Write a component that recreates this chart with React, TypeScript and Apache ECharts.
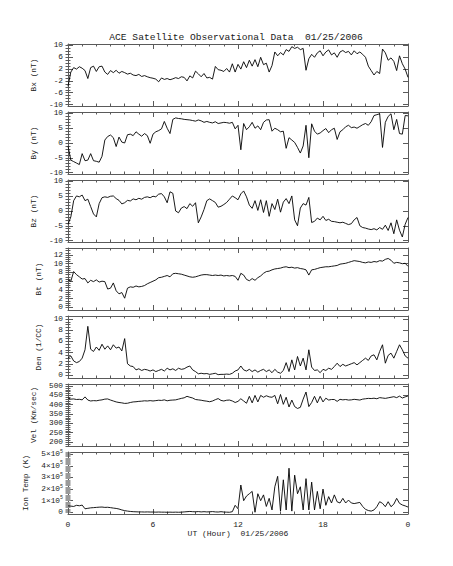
import React, { useEffect, useRef } from "react";
import * as echarts from "echarts";

// ---------- data (sampled every 0.2 h, 0..24 h UT) ----------
const STEP_H = 0.2;
const hours: number[] = Array.from({ length: 121 }, (_, i) => Math.round(i * STEP_H * 10) / 10);

const bx: number[] = [
  -3.8, 1.0, 2.5, 2.0, 2.8, 2.3, 1.5, -1.2, 2.5, 3.0,
  1.2, 2.8, 3.0, 1.0, 0.2, 1.5, 0.8, 1.6, 0.6, 1.2,
  0.8, 0.3, 0.6, 0.0, -0.2, 0.2, -0.5, -0.2, -0.6, -0.9,
  -1.1, -1.4, -2.3, -1.0, -1.5, -1.2, -1.6, -1.3, -0.9, -1.2,
  -0.6, -0.8, -2.0, -0.3, -1.0, 1.3, 0.4, -0.6, 0.5, -1.0,
  -0.8, -1.4, 2.9, 1.8, 1.6, 1.2, 2.2, 1.0, 3.8, 1.0,
  3.6, 2.0, 4.5, 2.5, 5.0, 3.0, 5.2, 2.8, 6.0, 3.5,
  4.0, 1.0, 3.2, 7.8, 6.5, 7.6, 6.8, 8.6, 8.0, 9.6,
  9.0, 9.4, 8.6, 9.0, 1.6, 5.5, 7.0, 6.0, 7.5, 8.2,
  6.5, 7.8, 8.5, 6.8, 7.5, 6.0, 7.8, 8.3, 7.6, 8.0,
  6.8, 8.2, 7.2, 7.8, 7.0, 6.0, 3.0, 1.5, 0.0, 1.2,
  0.5, 8.8, 7.5, 5.0, 5.8, 4.6, 1.5, 6.5, 3.8, 2.0,
  -0.8,
];

const by: number[] = [
  -1.0, -5.8, -6.3, -6.8, -7.3, -3.6, -6.0, -5.8, -3.6, -6.0,
  -6.2, -6.5, -4.5, 1.0, 2.2, 2.7, 1.8, -1.2, 2.0, 0.3,
  0.0, 2.8, 3.0, 2.5, 3.8, 3.0, 2.3, 3.2, 2.5, -0.1,
  3.0, 3.8, 4.2, 4.8, 7.3, 5.0, 3.2, 8.0, 8.5, 8.3,
  8.2, 8.0, 7.9, 7.8, 7.6, 7.4, 7.8, 7.5, 7.0, 7.3,
  7.0, 6.8, 7.2, 6.6, 6.8, 7.0, 6.9, 6.7, 7.0, 4.8,
  6.0, -2.3, 6.6, 4.5, 5.5, 7.0, 5.0, 5.8, 4.5, 7.0,
  7.8, 7.9, 4.0, 5.0, 4.5, 3.8, 4.0, -1.8, 1.8, 1.0,
  0.2, -1.5, -3.4, -1.0, 6.0, -5.0, 6.5, 4.0, 3.0, 3.4,
  4.2, 4.9, 3.5, 4.5, 5.0, 1.2, 3.8, 4.5, 5.5, 6.0,
  5.2, 5.4, 5.0, 5.6, 6.2, 6.6, 6.0, 7.2, 9.3, 9.6,
  9.9, -1.5, 7.0, 9.0, 9.9, 4.5, 8.0, 3.2, 3.0, 9.3,
  9.2,
];

const bz: number[] = [
  -4.5, -2.0, 3.5, 5.1, 4.8, 5.4, 3.5, 4.0, 1.5, -1.0,
  -2.0, 2.5, 4.5, 4.8, 4.6, 5.0, 5.1, 4.2, 3.6, 2.4,
  2.8, 3.6, 3.4, 4.1, 3.8, 4.3, 4.0, 4.6, 4.8, 4.5,
  5.0, 4.8, 5.7, 5.9, 4.8, 2.8, 6.5, 6.0, 0.0, -0.6,
  1.0, 1.5, 0.8, 2.5, 1.6, 2.8, -4.0, -2.0, 0.5, 3.5,
  4.1, 3.5, 2.9, 1.3, 1.6, 2.2, 2.9, 4.0, 5.1, 4.5,
  3.8, 5.8, 6.8, 4.8, 2.0, 0.9, 3.5, 0.2, 3.8, -0.5,
  3.5, -1.8, 2.5, 0.5, 4.0, -0.4, 3.0, 4.2, 2.5, 5.1,
  -3.0, -5.0, 1.0, 2.5, 2.0, 4.6, -3.9, -3.5, -2.4, -3.0,
  -1.8, -3.2, -2.8, -3.5, -3.6, -3.8, -4.0, -3.8, -4.2, -4.6,
  -4.3, -3.0, -2.2, -5.0, -5.6, -5.8, -6.1, -6.3, -6.0, -6.4,
  -5.6, -6.2, -4.8, -6.6, -4.0, -7.7, -3.0, -6.5, -8.8, -4.5,
  -2.2,
];

const bt: number[] = [
  6.3, 6.0, 8.2, 7.5, 7.0, 6.5, 6.6, 5.6, 6.2, 5.9,
  6.3, 5.8, 6.0, 5.9, 4.2, 4.4, 5.6, 3.8, 3.1, 3.4,
  2.1, 4.4, 4.7, 4.6, 4.9, 4.7, 4.8, 5.0, 5.4, 5.7,
  6.0, 6.3, 6.8, 6.9, 7.1, 7.3, 7.0, 7.7, 7.8, 7.7,
  7.6, 7.4, 7.2, 7.0, 6.9, 7.0, 7.2, 7.4, 7.5, 7.5,
  7.4, 7.3, 7.4, 7.3, 7.4, 7.2, 7.3, 7.2, 7.3, 7.1,
  6.2, 7.8, 7.4, 6.4, 6.1, 6.6, 6.2, 6.8, 7.2, 7.8,
  8.2, 8.3, 8.6, 8.8, 8.9, 9.0, 9.2, 9.3, 9.1, 9.2,
  9.0, 9.1, 8.9, 8.8, 8.6, 7.4, 8.6, 8.7, 8.9, 9.1,
  9.2, 9.3, 9.3, 9.4, 9.5, 9.6, 9.9, 10.0, 10.1, 10.3,
  10.5, 10.7, 10.6, 10.5, 10.3, 10.2, 10.4, 10.3, 10.5, 10.4,
  10.7, 10.6, 11.0, 11.2, 10.8, 10.1, 10.3, 10.2, 10.0, 10.1,
  9.4,
];

const den: number[] = [
  3.0, 3.4, 2.5, 2.2, 2.4, 3.0, 4.5, 8.7, 4.6, 4.2,
  5.0, 4.4, 5.5, 4.6, 5.2, 4.5, 5.4, 4.8, 5.0, 4.3,
  6.5, 2.0, 1.6, 1.5, 0.9, 1.1, 0.8, 1.0, 0.9, 0.7,
  0.9, 0.6, 0.8, 1.0, 0.7, 1.2, 0.9, 1.1, 0.8, 1.2,
  1.0, 1.1, 1.4, 1.6, 0.9, 0.6, 0.2, 0.3, 0.2, 0.25,
  0.1, 0.2, 0.3, 0.05, 0.1, 0.1, 0.15, 0.1, 0.3, 0.7,
  0.9, 1.6, 0.9, 0.7, 1.0, 0.6, 0.9, 0.5, 0.8, 1.0,
  0.6, 0.9, 0.4, 1.0, 0.5, 0.3, 0.8, 2.2, 0.6, 2.7,
  0.9, 3.3, 1.6, 3.0, 0.9, 4.5, 1.4, 0.8, 0.9, 0.4,
  1.0, 0.8, 1.2, 1.0, 1.5, 2.1, 1.5, 1.9, 1.6, 1.8,
  2.0, 2.2, 1.8, 2.2, 2.6, 3.0, 2.6, 3.4, 3.6, 2.7,
  4.2, 5.4, 2.1, 3.5, 3.9, 3.0, 4.2, 5.4, 4.5, 3.4,
  3.0,
];

const vel: number[] = [
  437, 430, 431, 428, 429, 426, 442, 425, 420, 422,
  421, 424, 426, 430, 431, 425, 420, 415, 412, 410,
  407, 408, 412, 415, 416, 418, 419, 421, 420, 422,
  420, 422, 424, 423, 426, 421, 424, 425, 426, 430,
  434, 437, 445, 440, 436, 428, 426, 424, 421, 419,
  416, 420, 427, 433, 423, 420, 424, 425, 420, 412,
  418, 432, 420, 408, 445, 410, 450, 415, 450, 440,
  448, 442, 440, 450, 405, 455, 402, 440, 388, 425,
  390, 380, 386, 430, 468, 390, 412, 445, 410, 445,
  415, 435, 425, 428, 428, 418, 429, 426, 428, 425,
  426, 429, 427, 425, 430, 432, 434, 433, 435, 432,
  438, 436, 434, 437, 440, 443, 438, 446, 436, 442,
  447,
];

const ionTemp: number[] = [
  55000, 53000, 50000, 60000, 56000, 62000, 30000, 34000, 38000, 40000,
  42000, 44000, 45000, 42000, 43000, 40000, 36000, 33000, 28000, 20000,
  14000, 10000, 7000, 5000, 4000, 3000, 3000, 2000, 3000, 2000,
  2000, 1000, 2000, 1000, 1000, 0, 1000, 0, 1000, 0,
  1000, 3000, 5000, 7000, 5000, 4000, 6000, 3000, 5000, 3000,
  4000, 6000, 3000, 2000, 5000, 2000, 1000, 0, 5000, 60000,
  30000, 235000, 100000, 140000, 160000, 180000, 0, 160000, 100000, 150000,
  50000, 120000, 20000, 220000, 310000, 10000, 280000, 20000, 380000, 10000,
  320000, 160000, 220000, 20000, 290000, 20000, 260000, 20000, 180000, 30000,
  200000, 60000, 135000, 80000, 150000, 90000, 80000, 120000, 80000, 105000,
  80000, 75000, 80000, 85000, 50000, 25000, 15000, 10000, 20000, 48000,
  91000, 77000, 48000, 91000, 48000, 70000, 120000, 77000, 63000, 55000,
  45000,
];

// tick labels
const bxTicks = [-10, -6, -2, 2, 6, 10];
const byTicks = [-10, -5, 0, 5, 10];
const bzTicks = [-10, -5, 0, 5, 10];
const btTicks = [0, 2, 4, 6, 8, 10, 12];
const denTicks = [0, 2, 4, 6, 8, 10];
const velTicks = [200, 250, 300, 350, 400, 450, 500];
const tempTicks = [0, 100000, 200000, 300000, 400000, 500000];
const hourTicks = [0, 6, 12, 18, 24];

const TITLE = "ACE Satellite Observational Data  01/25/2006";
const X_TITLE = "UT (Hour)  01/25/2006";

// ---------- layout / style ----------
const FONT = '"Liberation Mono", "DejaVu Sans Mono", monospace';
const TEXT = "#1a1a1a";
const FRAME = "#5a5a5a";
const LEFT = 68;
const WIDTH = 340;
const TOP0 = 44;
const STEP = 68;
const H = 62;

function steps(start: number, end: number, step: number): number[] {
  const out: number[] = [];
  for (let v = start; v <= end + 1e-9; v += step) out.push(Math.round(v * 1000) / 1000);
  return out;
}

type Panel = {
  name: string;
  data: number[];
  min: number;
  max: number;
  major: number[];
  minor: number[];
  nameGap: number;
  temp?: boolean;
};

const panels: Panel[] = [
  { name: "Bx (nT)", data: bx, min: -10.5, max: 10.5, major: bxTicks, minor: steps(-10, 10, 1), nameGap: 19 },
  { name: "By (nT)", data: by, min: -10.5, max: 10.5, major: byTicks, minor: steps(-10, 10, 1), nameGap: 19 },
  { name: "Bz (nT)", data: bz, min: -10.5, max: 10.5, major: bzTicks, minor: steps(-10, 10, 1), nameGap: 19 },
  { name: "Bt (nT)", data: bt, min: -0.6, max: 13.6, major: btTicks, minor: steps(0, 13.5, 0.5), nameGap: 12 },
  { name: "Den (1/CC)", data: den, min: -0.55, max: 10.55, major: denTicks, minor: steps(0, 10.5, 0.5), nameGap: 14 },
  { name: "Vel (Km/sec)", data: vel, min: 179, max: 511, major: velTicks, minor: steps(180, 510, 10), nameGap: 17 },
  { name: "Ion Temp (K)", data: ionTemp, min: -15000, max: 520000, major: tempTicks, minor: steps(0, 520000, 10000), nameGap: 30, temp: true },
];

function buildOption() {
  const grid: any[] = [];
  const xAxis: any[] = [];
  const yAxis: any[] = [];
  const series: any[] = [];
  const lineStyle = { color: FRAME, width: 1 };
  const nameTextStyle = { fontFamily: FONT, fontSize: 7.8, color: TEXT };

  panels.forEach((p, i) => {
    const last = i === panels.length - 1;
    grid.push({ left: LEFT, top: TOP0 + i * STEP, width: WIDTH, height: H });

    const xBase: any = {
      type: "value",
      gridIndex: i,
      min: 0,
      max: 24,
      interval: 6,
      axisLine: { show: true, onZero: false, lineStyle },
      axisTick: { show: true, inside: true, length: 5, lineStyle },
      minorTick: { show: true, splitNumber: 6, length: 2.5, lineStyle },
      splitLine: { show: false },
      minorSplitLine: { show: false },
    };
    xAxis.push({
      ...xBase,
      position: "bottom",
      axisLabel: last
        ? {
            show: true,
            margin: 6,
            fontFamily: FONT,
            fontSize: 8,
            color: TEXT,
            formatter: (v: number) => (hourTicks.includes(v) ? String(v % 24) : ""),
          }
        : { show: false },
      name: last ? X_TITLE : "",
      nameLocation: "middle",
      nameGap: 15,
      nameTextStyle: { ...nameTextStyle, fontSize: 8 },
    });
    xAxis.push({ ...xBase, position: "top", axisLabel: { show: false } });

    const yBase: any = {
      type: "value",
      gridIndex: i,
      min: p.min,
      max: p.max,
      splitLine: { show: false },
      minorSplitLine: { show: false },
    };
    const majorTick = { show: true, inside: true, length: 5, customValues: p.major, lineStyle };
    const minorTick = {
      show: true,
      inside: true,
      length: 2.5,
      customValues: p.minor,
      lineStyle: { color: p.temp ? "#9a9a9a" : FRAME, width: 1 },
    };
    const labelFmt = p.temp
      ? (v: number) => (v === 0 ? "0" : `{m|${Math.round(v / 100000)}×10}{e|5}`)
      : (v: number) => String(v);
    yAxis.push({
      ...yBase,
      position: "left",
      axisLine: { show: true, onZero: false, lineStyle },
      axisTick: majorTick,
      axisLabel: {
        show: true,
        customValues: p.major,
        margin: 5,
        fontFamily: FONT,
        fontSize: 7.8,
        color: TEXT,
        formatter: labelFmt,
        rich: {
          m: { fontFamily: FONT, fontSize: 7.8, color: TEXT, lineHeight: 10 },
          e: { fontFamily: FONT, fontSize: 5, color: TEXT, verticalAlign: "top", lineHeight: 10 },
        },
      },
      name: p.name,
      nameLocation: "middle",
      nameGap: p.nameGap,
      nameRotate: 90,
      nameTextStyle,
    });
    yAxis.push({
      ...yBase,
      position: "right",
      axisLine: { show: true, onZero: false, lineStyle },
      axisTick: majorTick,
      axisLabel: { show: false },
    });
    yAxis.push({
      ...yBase,
      position: "left",
      axisLine: { show: false },
      axisTick: minorTick,
      axisLabel: { show: false },
    });
    yAxis.push({
      ...yBase,
      position: "right",
      axisLine: { show: false },
      axisTick: minorTick,
      axisLabel: { show: false },
    });

    series.push({
      type: "line",
      xAxisIndex: 2 * i,
      yAxisIndex: 4 * i,
      data: hours.map((h, k) => [h, p.data[k]]),
      showSymbol: false,
      symbol: "none",
      clip: true,
      silent: true,
      lineStyle: { color: "#000", width: 0.9 },
    });
  });

  return {
    animation: false,
    backgroundColor: "#ffffff",
    grid,
    xAxis,
    yAxis,
    series,
    graphic: [
      {
        type: "text",
        x: 236,
        y: 37,
        style: {
          text: TITLE,
          fill: TEXT,
          fontFamily: FONT,
          fontSize: 9.6,
          textAlign: "center",
          textVerticalAlign: "middle",
          verticalAlign: "middle",
        },
      },
    ],
  };
}

export default function App() {
  const ref = useRef<HTMLDivElement | null>(null);
  useEffect(() => {
    document.body.style.margin = "0";
    if (!ref.current) return;
    const chart = echarts.init(ref.current, undefined, { renderer: "svg" });
    chart.setOption(buildOption() as any);
    return () => chart.dispose();
  }, []);
  return <div ref={ref} style={{ width: 453, height: 566, background: "#fff" }} />;
}
